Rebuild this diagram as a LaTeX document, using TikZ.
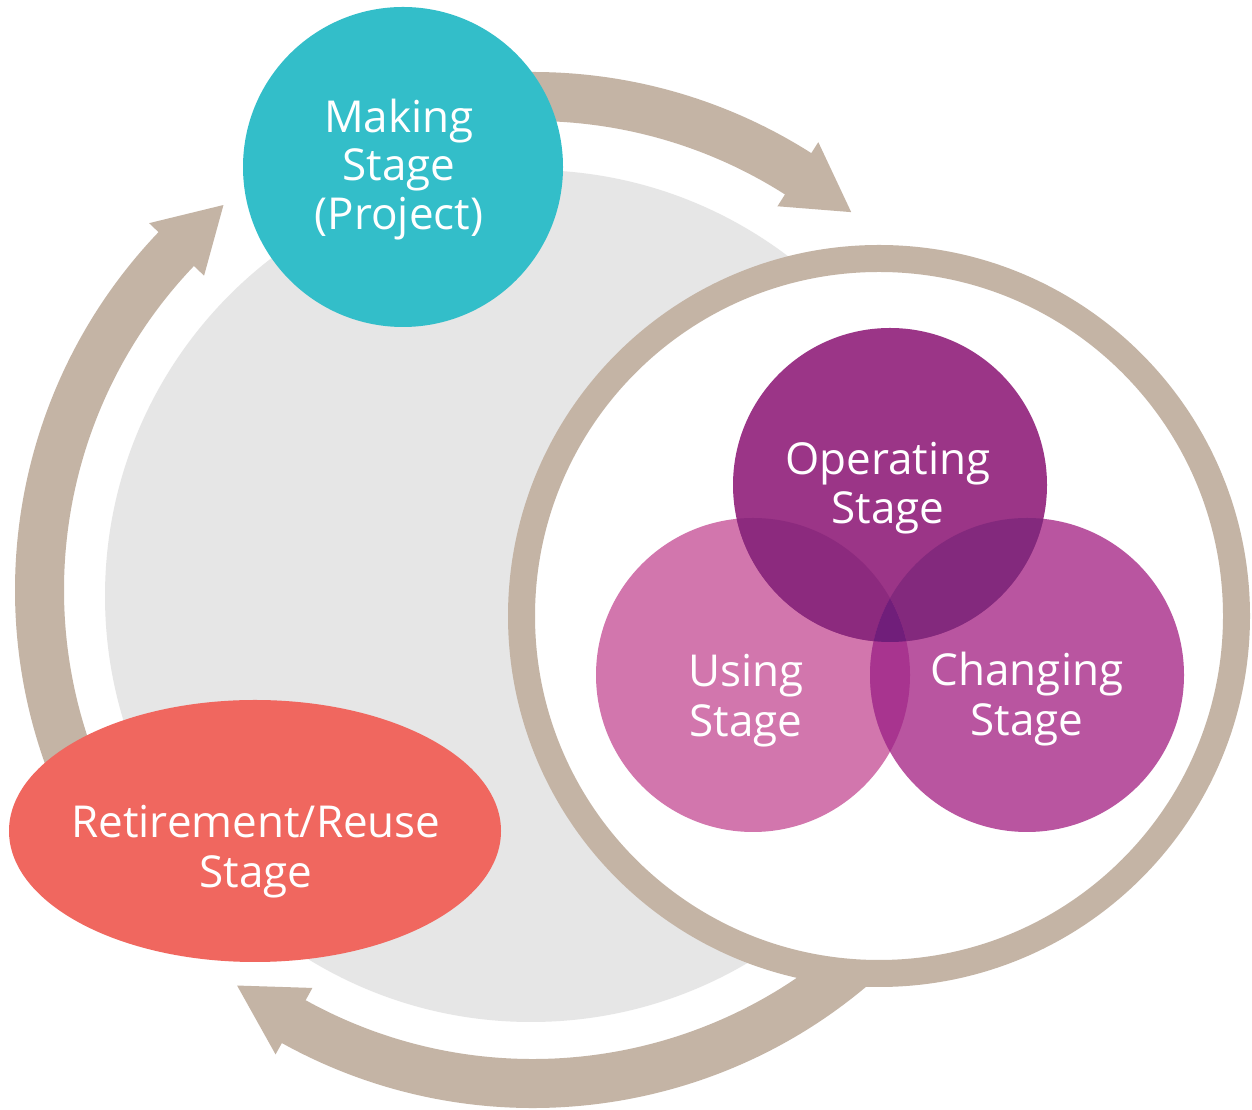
\documentclass[tikz,border=0pt]{standalone}
\usepackage{fontspec}
\setmainfont{Open Sans}
\usetikzlibrary{calc,shapes.geometric}
\definecolor{arrowtan}{HTML}{C4B4A5}
\definecolor{corebg}{HTML}{E6E6E6}
\definecolor{makecol}{HTML}{33BEC9}
\definecolor{retirecol}{HTML}{F0675F}
\definecolor{opcol}{HTML}{9B3587}
\definecolor{usecol}{HTML}{D276AD}
\definecolor{chgcol}{HTML}{B955A0}
\definecolor{opusecol}{HTML}{8C2A7E}
\definecolor{opchgcol}{HTML}{83297D}
\definecolor{usechgcol}{HTML}{A8348F}
\definecolor{allcol}{HTML}{701E7A}
% #1 start angle (tail), #2 angle where the head begins, #3 angle of the tip
\newcommand\cyclearrow[3]{%
  \fill[arrowtan] ($(C)+(#1:518pt)$) arc[start angle=#1, end angle=#2, radius=518pt]
    -- ($(C)+(#2:531pt)$) -- ($(C)+(#3:494pt)$) -- ($(C)+(#2:455pt)$)
    -- ($(C)+(#2:469pt)$) arc[start angle=#2, end angle=#1, radius=469pt] -- cycle;}
\begin{document}
\begin{tikzpicture}[x=1pt,y=1pt,
  lbl/.style={text=white, font=\fontsize{44}{49}\selectfont, anchor=base, inner sep=0pt},
  disc/.style={circle, inner sep=0pt, minimum size=#1},
  venn/.style={disc=314pt, fill=#1}]
\fill[white] (0,0) rectangle (1252,1110);
\useasboundingbox (0,0) rectangle (1252,1110);
\coordinate (C) at (533,520);
% grey background disc
\node[disc=852pt, fill=corebg] (core) at (531,514) {};
% cycle arrows
\cyclearrow{95}{57.5}{49.9}
\cyclearrow{320}{241}{233.2}
\cyclearrow{205}{136.3}{128.8}
% ring holding the three use stages
\node[disc=715pt, draw=arrowtan, line width=27pt, fill=white] (ring) at (879,494) {};
% Venn circles
\node[venn=usecol] (using) at (753,435) {};
\node[venn=chgcol] (changing) at (1027,435) {};
\node[venn=opcol] (operating) at (890,625) {};
\begin{scope}
  \clip (operating.center) circle (157pt);
  \fill[opusecol] (using.center) circle (157pt);
\end{scope}
\begin{scope}
  \clip (operating.center) circle (157pt);
  \fill[opchgcol] (changing.center) circle (157pt);
\end{scope}
\begin{scope}
  \clip (using.center) circle (157pt);
  \fill[usechgcol] (changing.center) circle (157pt);
\end{scope}
\begin{scope}
  \clip (using.center) circle (157pt);
  \clip (changing.center) circle (157pt);
  \fill[allcol] (operating.center) circle (157pt);
\end{scope}
% making and retirement stages
\node[disc=320pt, fill=makecol] (making) at (403,943) {};
\node[ellipse, inner sep=0pt, minimum width=492pt, minimum height=262pt, fill=retirecol] (retire) at (255,279) {};
% labels
\node[lbl] (making1) at (399,977) {Making};
\node[lbl] (making2) at (399,929) {Stage};
\node[lbl] (making3) at (399,880) {(Project)};
\node[lbl] (operating1) at (888,635) {Operating};
\node[lbl] (operating2) at (888,586) {Stage};
\node[lbl] (using1) at (746,423) {Using};
\node[lbl] (using2) at (746,373) {Stage};
\node[lbl] (changing1) at (1027,424) {Changing};
\node[lbl] (changing2) at (1027,374) {Stage};
\node[lbl] (retire1) at (256,272) {Retirement/Reuse};
\node[lbl] (retire2) at (256,222) {Stage};
\end{tikzpicture}
\end{document}
